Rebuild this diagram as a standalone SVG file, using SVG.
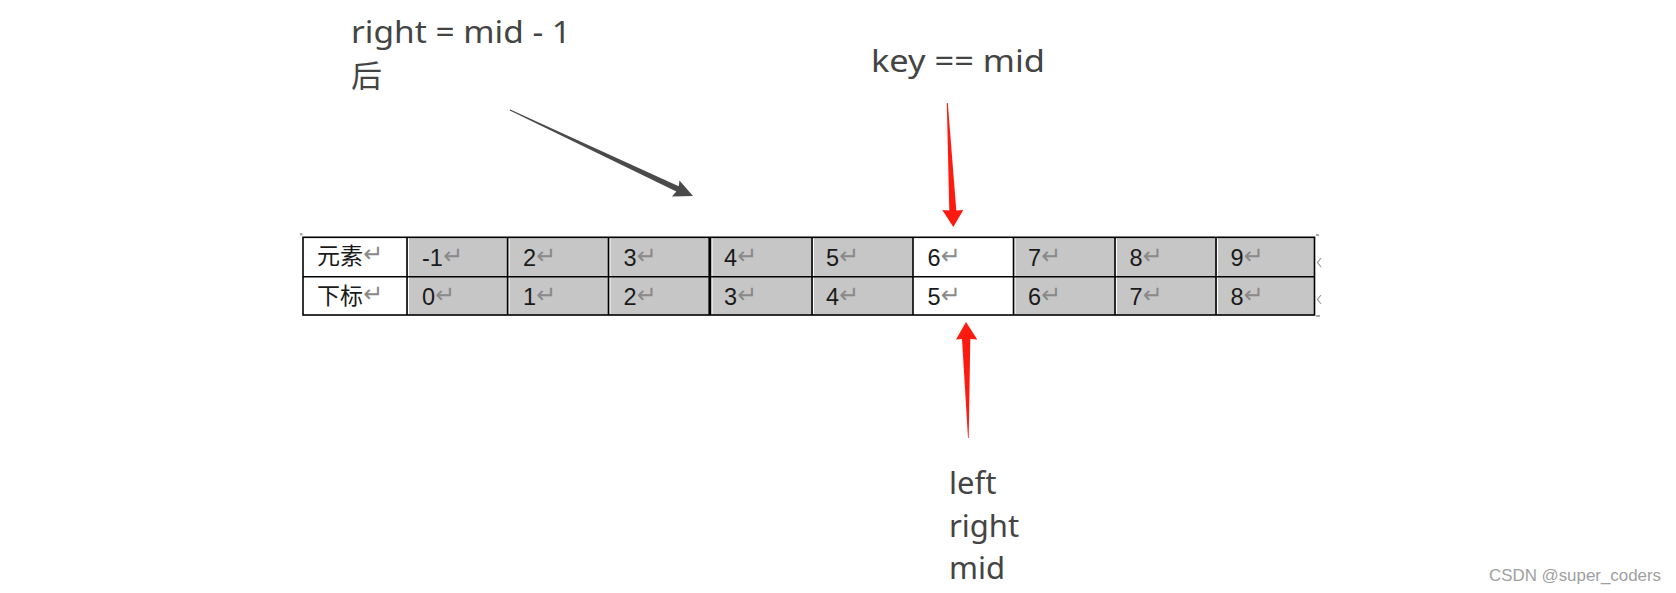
<svg xmlns="http://www.w3.org/2000/svg" width="1676" height="593" viewBox="0 0 1676 593">
<style>
.lbl{font-family:"Noto Sans","Open Sans","Noto Sans CJK SC",sans-serif;font-size:31px;fill:#444}
.cjk{font-family:"Noto Sans CJK SC",sans-serif;font-size:31px;fill:#444}
.cell{font-family:"Liberation Sans","Noto Sans CJK SC",sans-serif;font-size:23.5px;fill:#1a1a1a}
.cellc{font-family:"Noto Sans CJK SC",sans-serif;font-size:23px;fill:#1a1a1a}
.ret{font-family:"DejaVu Sans",sans-serif;font-size:24px;fill:#8a8a8a}
.grid{stroke:#000;stroke-width:1.6;fill:none}
.wm{font-family:"Liberation Sans",Arial,sans-serif;font-size:17px;fill:#a0a0a0}
</style>
<rect width="1676" height="593" fill="#fff"/>
<g id="table">
  <rect x="407" y="237" width="506" height="78" fill="#c6c6c6"/>
  <rect x="1013.5" y="237" width="301.5" height="78" fill="#c6c6c6"/>
  <g stroke="#fff" stroke-width="1">
    <line x1="408.5" y1="238" x2="408.5" y2="314"/>
    <line x1="509" y1="238" x2="509" y2="314"/>
    <line x1="610" y1="238" x2="610" y2="314"/>
    <line x1="712" y1="238" x2="712" y2="314"/>
    <line x1="813.5" y1="238" x2="813.5" y2="314"/>
    <line x1="1015" y1="238" x2="1015" y2="314"/>
    <line x1="1116.5" y1="238" x2="1116.5" y2="314"/>
    <line x1="1217.5" y1="238" x2="1217.5" y2="314"/>
  </g>
  <rect class="grid" x="303" y="237.3" width="1011.5" height="77.7"/>
  <line class="grid" x1="303" y1="276.7" x2="1314.5" y2="276.7"/>
  <g class="grid">
    <line x1="407" y1="237" x2="407" y2="315"/>
    <line x1="507.6" y1="237" x2="507.6" y2="315"/>
    <line x1="608.5" y1="237" x2="608.5" y2="315"/>
    <line x1="709.8" y1="237" x2="709.8" y2="315" stroke-width="2.8"/>
    <line x1="812" y1="237" x2="812" y2="315"/>
    <line x1="913" y1="237" x2="913" y2="315"/>
    <line x1="1013.5" y1="237" x2="1013.5" y2="315"/>
    <line x1="1115" y1="237" x2="1115" y2="315"/>
    <line x1="1216" y1="237" x2="1216" y2="315"/>
  </g>
  <rect x="300" y="233" width="2.5" height="2.5" fill="#aaa"/>
  <g fill="#aaa">
    <rect x="1316" y="234" width="3" height="2"/>
    <rect x="1316" y="315" width="4" height="2"/>
    <path d="M1321 258 L1317.5 262.5 L1321 267" stroke="#999" stroke-width="1.2" fill="none"/>
    <path d="M1321 295 L1317.5 299.5 L1321 304" stroke="#999" stroke-width="1.2" fill="none"/>
  </g>
  <g id="row1">
    <text class="cellc" x="317" y="264">元素<tspan class="ret" dy="-2">↵</tspan></text>
    <text class="cell" x="422" y="265.5">-1<tspan class="ret" dy="-2">↵</tspan></text>
    <text class="cell" x="523" y="265.5">2<tspan class="ret" dy="-2">↵</tspan></text>
    <text class="cell" x="623.5" y="265.5">3<tspan class="ret" dy="-2">↵</tspan></text>
    <text class="cell" x="724" y="265.5">4<tspan class="ret" dy="-2">↵</tspan></text>
    <text class="cell" x="826" y="265.5">5<tspan class="ret" dy="-2">↵</tspan></text>
    <text class="cell" x="927.5" y="265.5">6<tspan class="ret" dy="-2">↵</tspan></text>
    <text class="cell" x="1028" y="265.5">7<tspan class="ret" dy="-2">↵</tspan></text>
    <text class="cell" x="1129.5" y="265.5">8<tspan class="ret" dy="-2">↵</tspan></text>
    <text class="cell" x="1230.5" y="265.5">9<tspan class="ret" dy="-2">↵</tspan></text>
  </g>
  <g id="row2">
    <text class="cellc" x="317" y="303.5">下标<tspan class="ret" dy="-2">↵</tspan></text>
    <text class="cell" x="422" y="305">0<tspan class="ret" dy="-2">↵</tspan></text>
    <text class="cell" x="523" y="305">1<tspan class="ret" dy="-2">↵</tspan></text>
    <text class="cell" x="623.5" y="305">2<tspan class="ret" dy="-2">↵</tspan></text>
    <text class="cell" x="724" y="305">3<tspan class="ret" dy="-2">↵</tspan></text>
    <text class="cell" x="826" y="305">4<tspan class="ret" dy="-2">↵</tspan></text>
    <text class="cell" x="927.5" y="305">5<tspan class="ret" dy="-2">↵</tspan></text>
    <text class="cell" x="1028" y="305">6<tspan class="ret" dy="-2">↵</tspan></text>
    <text class="cell" x="1129.5" y="305">7<tspan class="ret" dy="-2">↵</tspan></text>
    <text class="cell" x="1230.5" y="305">8<tspan class="ret" dy="-2">↵</tspan></text>
  </g>
</g>
<g id="label-right">
  <text class="lbl" x="351" y="42.5" textLength="220" lengthAdjust="spacingAndGlyphs">right = mid - 1</text>
  <text class="cjk" x="351" y="87">后</text>
</g>
<g id="label-key">
  <text class="lbl" x="871" y="71.5" textLength="174" lengthAdjust="spacingAndGlyphs">key == mid</text>
</g>
<g id="label-lrm">
  <text class="lbl" x="949" y="494">left</text>
  <text class="lbl" x="949" y="537">right</text>
  <text class="lbl" x="949" y="579">mid</text>
</g>
<g id="connectors">
  <polygon fill="#4a4a4a" points="509.8,110.4 676.3,191.6 672,196.5 693,196 679.5,180.5 678.7,186.2 510.2,109.6"/>
  <polygon fill="#ff1a10" points="946.8,103 949.3,210.5 942.3,210 953.3,227 963.3,210 956.3,210.5 947.8,103"/>
  <polygon fill="#ff1a10" points="966,322 977.3,339.5 970.3,339 968.7,438 968,438 962,339 956,339.5"/>
</g>
<text class="wm" x="1489" y="581" textLength="172" lengthAdjust="spacingAndGlyphs">CSDN @super_coders</text>
</svg>
